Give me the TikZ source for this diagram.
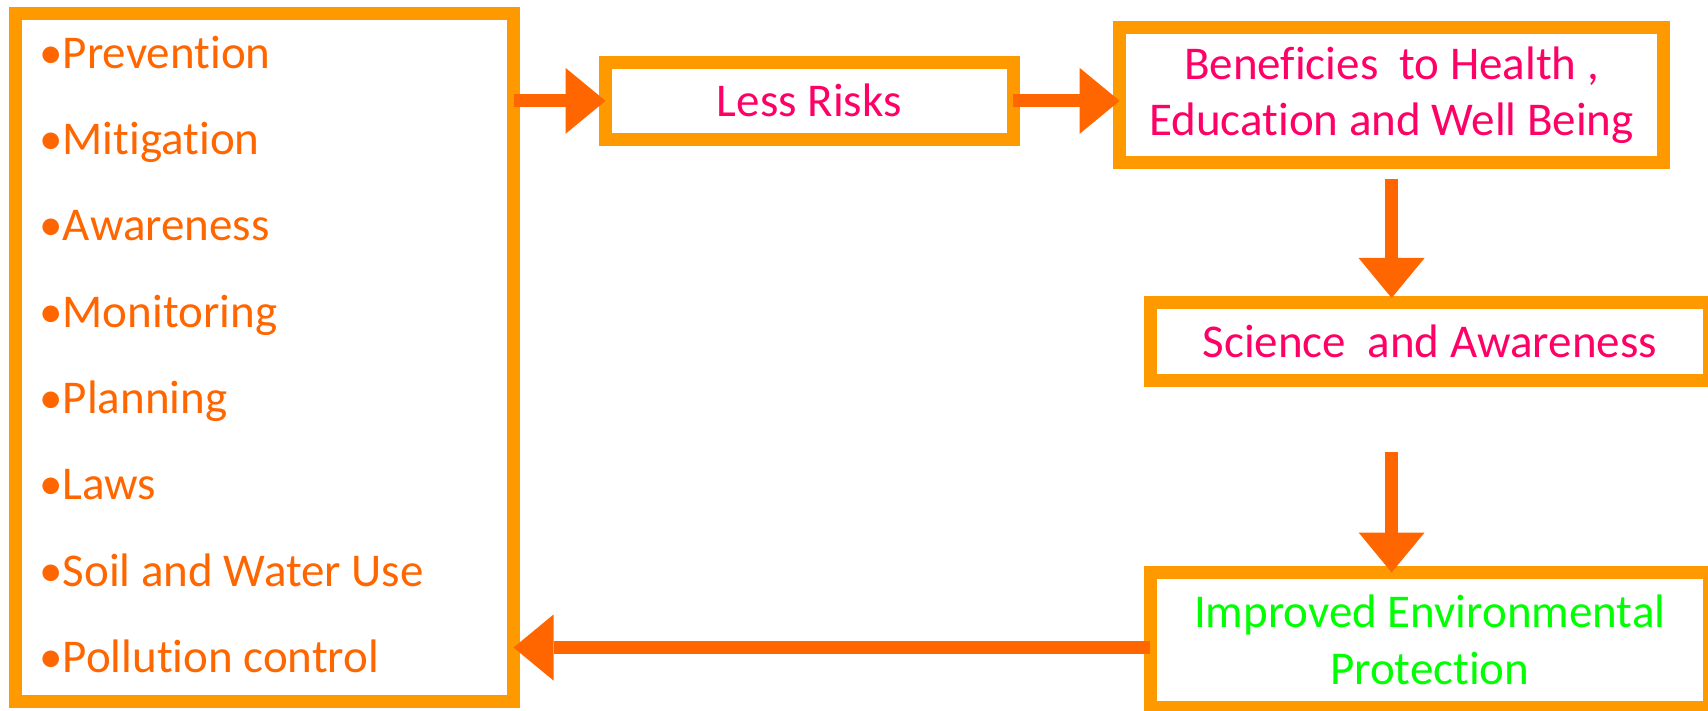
\documentclass[tikz,border=0pt]{standalone}
\usepackage{fontspec}
\setmainfont{Carlito}[Ligatures={NoCommon,NoContextual,NoRequired}]
\usetikzlibrary{positioning,arrows.meta}

\definecolor{boxorange}{HTML}{FF9900}
\definecolor{arroworange}{HTML}{FF6600}
\definecolor{textpink}{HTML}{FF0066}
\definecolor{textgreen}{HTML}{00FF00}

\begin{document}
\begin{tikzpicture}[
  x=0.5pt, y=-0.5pt,
  flow box/.style={
    draw=boxorange,
    line width=6.5pt,
    outer sep=0pt,
    inner sep=0pt,
    align=center,
    text=textpink,
    font=\fontsize{23.5}{28.25}\selectfont,
  },
  item node/.style={
    anchor=base west,
    inner sep=0pt,
    text=arroworange,
    font=\fontsize{23.5}{28.25}\selectfont,
  },
  flow arrow/.style={
    draw=arroworange,
    line width=6.5pt,
    -{Triangle[length=20pt,width=33pt,line width=0pt]},
  },
  ]
  \useasboundingbox (0,0) rectangle (1708,711);

  \node[flow box,minimum width=249pt,minimum height=344pt] (measures)
  at (264.5,357.5) {};
  \foreach \entry [count=\i from 0] in {Prevention,Mitigation,Awareness,
    Monitoring,Planning,Laws,Soil and Water Use,Pollution control}
  \node[item node] (item-\i) at (39,68.3+86.3*\i) {•\entry};

  \node[flow box,minimum width=203.75pt,minimum height=38.35pt] (risks)
  at (809.25,100.85) {Less Risks};
  \node[flow box,minimum width=272pt,minimum height=67.6pt] (benefits)
  at (1391.6,95.1) {Beneficies\ \ to Health ,\\ Education and Well Being};
  \node[flow box,minimum width=279.75pt,minimum height=38.75pt] (science)
  at (1429.75,341.75) {Science\ \ and Awareness};
  \node[flow box,minimum width=279.75pt,minimum height=67.25pt,
  text=textgreen] (protection)
  at (1429.75,639.75) {Improved Environmental\\ Protection};

  \draw[flow arrow] (measures.east |- risks.west) -- (risks.west);
  \draw[flow arrow] (risks.east) -- (risks.east -| benefits.west);
  \draw[flow arrow,shorten <=8pt,shorten >=2.5pt]
  (benefits.south) -- (benefits.south |- science.north);
  \draw[flow arrow,shorten <=35.75pt]
  (benefits.south |- science.south) -- (benefits.south |- protection.north);
  \draw[flow arrow] ([yshift=-3.9pt]protection.west)
  -- ([yshift=-3.9pt]protection.west -| measures.east);
\end{tikzpicture}
\end{document}
